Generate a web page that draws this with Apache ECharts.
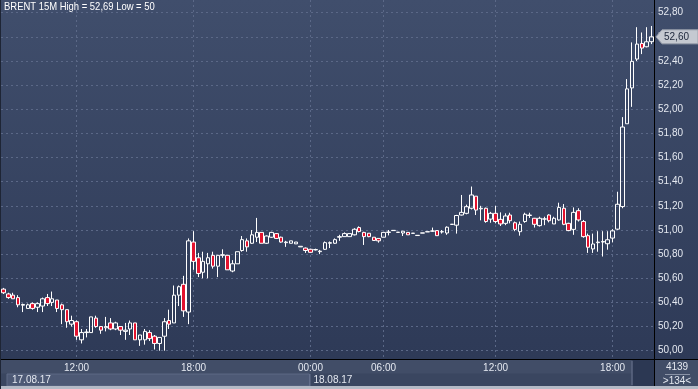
<!DOCTYPE html>
<html><head><meta charset="utf-8">
<script src="https://cdn.jsdelivr.net/npm/echarts@6/dist/echarts.min.js"></script>
<style>
html,body{margin:0;padding:0;background:#2d3956;}
#c{width:698px;height:389px;background:linear-gradient(to bottom,#404e6c 0px,#2e3a57 359px,#2e3a57 389px);}
</style>
</head><body><div id="c"></div><script>
// 15-minute candles, 17.08.17 08:15 -> 18.08.17 20:00
const times = [
'08:15','08:30','08:45',
'09:00','09:15','09:30','09:45','10:00','10:15','10:30','10:45',
'11:00','11:15','11:30','11:45','12:00','12:15','12:30','12:45',
'13:00','13:15','13:30','13:45','14:00','14:15','14:30','14:45',
'15:00','15:15','15:30','15:45','16:00','16:15','16:30','16:45',
'17:00','17:15','17:30','17:45','18:00','18:15','18:30','18:45',
'19:00','19:15','19:30','19:45','20:00','20:15','20:30','20:45',
'21:00','21:15','21:30','21:45','22:00','22:15','22:30','22:45',
'23:00','23:15','23:30','23:45',
'00:00','00:15','00:30',
'03:00','03:15','03:30','03:45','04:00','04:15','04:30','04:45',
'05:00','05:15','05:30','05:45','06:00','06:15','06:30','06:45',
'07:15','07:30','07:45',
'08:00','08:15','08:30','08:45','09:00','09:15','09:30','09:45',
'10:00','10:15','10:30','10:45','11:00','11:15','11:30','11:45',
'12:00','12:15','12:30','12:45','13:00','13:15','13:30','13:45',
'14:00','14:15','14:30','14:45','15:00','15:15','15:30','15:45',
'16:00','16:15','16:30','16:45','17:00','17:15','17:30','17:45',
'18:00','18:15','18:30','18:45','19:00','19:15','19:30','19:45',
'20:00'
];
const opens = [
50.51,50.47,50.46,50.44,50.377,50.35,50.39,50.36,50.37,50.44,
50.40,50.42,50.38,50.34,50.22,50.24,50.09,50.15,50.15,50.27,
50.20,50.19,50.23,50.18,50.20,50.16,50.18,50.23,50.09,50.09,
50.15,50.12,50.06,50.12,50.25,50.23,50.46,50.55,50.32,50.90,
50.77,50.65,50.72,50.79,50.70,50.79,50.79,50.66,50.72,50.83,
50.91,50.89,50.94,50.98,50.89,50.94,50.97,50.94,50.895,50.89,
50.885,50.86,50.85,50.84,50.835,50.82,50.84,50.89,50.89,50.94,
50.945,50.945,50.96,51.02,50.98,50.973,50.94,50.93,50.94,50.98,
50.995,50.98,50.975,50.98,50.972,50.954,50.974,50.984,50.99,50.995,
50.984,50.975,51.046,51.04,51.124,51.138,51.18,51.28,51.175,51.18,
51.09,51.138,51.088,51.055,51.124,51.06,50.986,51.07,51.12,51.097,
51.036,51.09,51.124,51.05,51.083,51.18,51.055,51.005,51.16,51.07,
50.953,50.843,50.895,50.90,50.886,50.933,51.007,51.194,51.88,52.177,
52.416,52.545,52.518,52.56
];
const closes = [
50.48,50.44,50.43,50.38,50.383,50.38,50.35,50.39,50.43,50.39,
50.43,50.35,50.34,50.24,50.25,50.12,50.15,50.155,50.28,50.20,
50.17,50.20,50.18,50.23,50.17,50.17,50.23,50.09,50.13,50.16,
50.10,50.06,50.11,50.24,50.22,50.46,50.53,50.33,50.91,50.74,
50.64,50.74,50.77,50.70,50.79,50.795,50.67,50.72,50.82,50.92,
50.86,50.96,50.98,50.89,50.95,50.98,50.93,50.90,50.90,50.91,
50.90,50.865,50.83,50.815,50.838,50.825,50.895,50.895,50.92,50.945,
50.97,50.97,51.006,50.987,50.945,50.945,50.913,50.91,50.98,50.983,
50.997,50.982,50.99,50.96,50.974,50.956,50.976,50.986,50.992,50.953,
50.986,51.023,51.048,51.12,51.146,51.193,51.29,51.165,51.18,51.07,
51.138,51.07,51.05,51.116,51.077,51.005,51.047,51.13,51.124,51.047,
51.097,51.092,51.077,51.097,51.187,51.047,50.995,51.146,51.083,50.945,
50.857,50.884,50.90,50.905,50.919,50.993,51.213,51.853,52.169,52.397,
52.54,52.507,52.559,52.60
];
const lows = [
50.47,50.43,50.43,50.36,50.32,50.35,50.34,50.32,50.32,50.37,
50.37,50.32,50.22,50.19,50.20,50.09,50.06,50.11,50.15,50.19,
50.14,50.16,50.17,50.17,50.13,50.09,50.13,50.09,50.04,50.05,
50.08,50.01,50.00,50.00,50.18,50.23,50.37,50.28,50.22,50.67,
50.61,50.60,50.60,50.68,50.61,50.77,50.67,50.65,50.72,50.82,
50.82,50.885,50.90,50.89,50.885,50.935,50.925,50.895,50.86,50.89,
50.885,50.86,50.81,50.81,50.83,50.80,50.835,50.85,50.885,50.91,
50.945,50.945,50.955,50.98,50.876,50.94,50.91,50.895,50.94,50.955,
50.995,50.98,50.95,50.96,50.972,50.954,50.974,50.984,50.985,50.953,
50.97,50.96,51.046,50.97,51.12,51.13,51.17,51.124,51.08,51.06,
51.06,51.055,51.033,51.04,51.055,50.99,50.953,51.06,51.10,51.02,
51.028,51.04,51.063,51.05,51.077,51.04,50.99,50.96,51.07,50.936,
50.81,50.81,50.82,50.78,50.837,50.897,51.00,51.18,51.88,52.02,
52.40,52.457,52.513,52.54
];
const highs = [
50.52,50.48,50.48,50.46,50.39,50.39,50.40,50.40,50.44,50.47,
50.49,50.42,50.39,50.34,50.29,50.25,50.18,50.18,50.28,50.29,
50.20,50.28,50.27,50.24,50.20,50.23,50.25,50.23,50.13,50.18,
50.17,50.13,50.11,50.27,50.34,50.54,50.54,50.62,50.93,50.99,
50.81,50.82,50.81,50.82,50.79,50.84,50.79,50.75,50.82,50.95,
50.93,51.00,51.10,50.98,50.955,50.985,50.975,50.945,50.91,50.91,
50.90,50.865,50.855,50.845,50.845,50.835,50.905,50.905,50.93,50.96,
50.98,50.97,51.015,51.03,50.985,50.975,50.94,50.93,50.98,51.00,
50.997,50.982,50.99,50.98,50.974,50.956,50.976,50.986,51.02,50.995,
51.00,51.03,51.048,51.125,51.29,51.21,51.36,51.28,51.20,51.185,
51.15,51.20,51.146,51.138,51.143,51.07,51.07,51.143,51.143,51.10,
51.11,51.11,51.13,51.11,51.226,51.215,51.06,51.187,51.18,51.083,
50.97,50.97,50.99,50.99,50.99,51.007,51.317,51.935,52.25,52.554,
52.68,52.636,52.68,52.69
];
const timeTickLabels = ['12:00','18:00','00:00','06:00'];
const dayLabels = ['17.08.17','18.08.17'];
const titleText = 'BRENT 15M High = 52,69 Low = 50';
const footerCount = '4139';
const footerBars = '>134<';
const yMin = 50.0, yMax = 52.8, yStep = 0.2;

const FONT = '"Liberation Sans", Arial, sans-serif';
const ohlc = opens.map((o, i) => [o, closes[i], lows[i], highs[i]]);
const showTime = (i, v) => timeTickLabels.indexOf(v) >= 0;
const fmt = v => v.toFixed(2).replace('.', ',');

const chart = echarts.init(document.getElementById('c'), null, {renderer: 'canvas'});
const option = {
  animation: false,
  backgroundColor: 'transparent',
  textStyle: {fontFamily: FONT},
  grid: [
    {left: 1, right: 44, top: 0, bottom: 30},
    {left: 1, right: 44, top: 12.7, bottom: 38.3}
  ],
  xAxis: [
    {type: 'category', gridIndex: 0, data: times, boundaryGap: true,
     axisLine: {show: true, lineStyle: {color: '#000000', width: 1}},
     axisTick: {show: false, alignWithLabel: true},
     axisLabel: {interval: showTime, color: '#e4e8f0', fontSize: 10, margin: 4, fontFamily: FONT},
     splitLine: {show: true, alignWithLabel: true, interval: showTime,
       lineStyle: {color: '#5b6887', type: [2, 3], width: 1}}},
    {type: 'category', gridIndex: 1, data: times, boundaryGap: true, show: false}
  ],
  yAxis: [
    {type: 'value', gridIndex: 0, show: false, min: 0, max: 1, splitLine: {show: false}},
    {type: 'value', gridIndex: 1, position: 'right', min: yMin, max: yMax, interval: yStep,
     axisLine: {show: false}, axisTick: {show: false},
     axisLabel: {color: '#e4e8f0', fontSize: 10, margin: 4, formatter: fmt, fontFamily: FONT},
     splitLine: {show: true, lineStyle: {color: '#5b6887', type: [2, 3], width: 1}}}
  ],
  series: [{
    type: 'candlestick', xAxisIndex: 1, yAxisIndex: 1, data: ohlc, barWidth: 4, clip: false,
    itemStyle: {color: 'rgba(0,0,0,0)', color0: '#e3122e', borderColor: '#ffffff', borderColor0: '#ffffff', borderWidth: 1}
  }]
};
chart.setOption(option);

// title, footer and frame decorations
const lastClose = closes[closes.length - 1];
const py = chart.convertToPixel({yAxisIndex: 1}, lastClose);
const dayX = chart.convertToPixel({xAxisIndex: 0}, '00:00');
const axisX = 654.5;
chart.setOption({
  graphic: [
    {type: 'text', z: 20, x: 4, y: 7.5, scaleX: 0.9, style: {text: titleText, fill: '#ffffff', font: '10.5px ' + FONT, textVerticalAlign: 'middle'}},
    {type: 'rect', z: -5, shape: {x: 0, y: 359.5, width: 698, height: 30}, style: {fill: '#414d67'}},
    {type: 'rect', z: -4, shape: {x: 0, y: 373.5, width: 632, height: 13}, style: {fill: '#3a4660'}},
    {type: 'rect', z: -3, shape: {x: 7, y: 374, width: dayX - 8, height: 12}, style: {fill: '#4d5975', stroke: '#5e6a86', lineWidth: 1}},
    {type: 'rect', z: -4, shape: {x: 632.5, y: 360, width: 22, height: 26}, style: {fill: '#2c3853'}},
    {type: 'line', z: 5, shape: {x1: 632, y1: 361, x2: 632, y2: 385}, style: {stroke: '#6a7590', lineWidth: 1}},
    {type: 'line', z: 5, shape: {x1: dayX - 0.5, y1: 374, x2: dayX - 0.5, y2: 386}, style: {stroke: '#6a7590', lineWidth: 1}},
    {type: 'rect', z: -3, shape: {x: 0, y: 386, width: 698, height: 3}, style: {fill: '#b4bac6'}},
    {type: 'line', z: 5, shape: {x1: 0, y1: 359.5, x2: 698, y2: 359.5}, style: {stroke: '#000000', lineWidth: 1}},
    {type: 'line', z: 5, shape: {x1: axisX, y1: 0, x2: axisX, y2: 386}, style: {stroke: '#000000', lineWidth: 1}},
    {type: 'line', z: 5, shape: {x1: 0.5, y1: 0, x2: 0.5, y2: 389}, style: {stroke: '#1e2535', lineWidth: 1}},
    {type: 'text', z: 10, x: 12, y: 380, style: {text: dayLabels[0], fill: '#e4e8f0', font: '10px ' + FONT, textVerticalAlign: 'middle'}},
    {type: 'text', z: 10, x: dayX + 3, y: 380, style: {text: dayLabels[1], fill: '#e4e8f0', font: '10px ' + FONT, textVerticalAlign: 'middle'}},
    {type: 'text', z: 10, x: 677, y: 367, style: {text: footerCount, fill: '#e4e8f0', font: '10px ' + FONT, textAlign: 'center', textVerticalAlign: 'middle'}},
    {type: 'line', z: 5, shape: {x1: 665, y1: 374.5, x2: 690, y2: 374.5}, style: {stroke: '#8a93a6', lineWidth: 1}},
    {type: 'text', z: 10, x: 677, y: 381, style: {text: footerBars, fill: '#e4e8f0', font: '10px ' + FONT, textAlign: 'center', textVerticalAlign: 'middle'}},
    {type: 'polygon', z: 10, shape: {points: [[656, py], [662, py - 7], [698, py - 7], [698, py + 7], [662, py + 7]]},
     style: {fill: '#c5c9d1', stroke: '#9aa0ac', lineWidth: 1}},
    {type: 'text', z: 11, x: 664, y: py, style: {text: fmt(lastClose), fill: '#1c263a', font: '10px ' + FONT, textVerticalAlign: 'middle'}}
  ]
});
</script></body></html>
